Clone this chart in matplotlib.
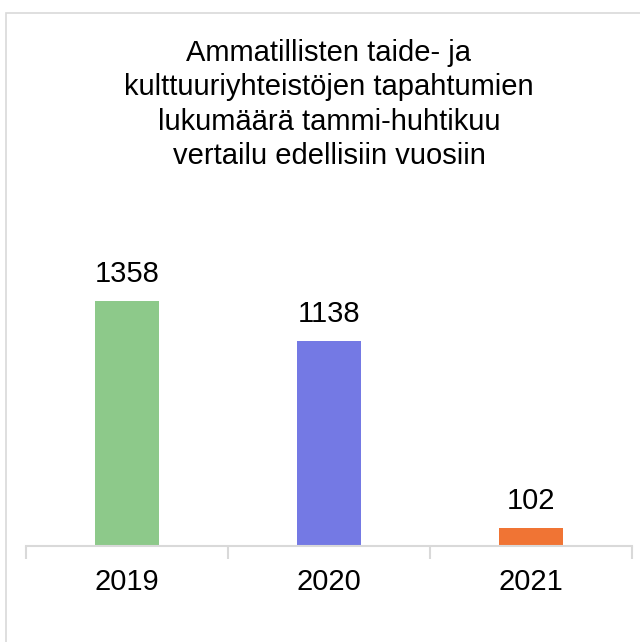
import matplotlib
matplotlib.use("Agg")
import matplotlib.pyplot as plt
from matplotlib.patches import Rectangle

plt.rcParams['font.family'] = ['Liberation Sans', 'DejaVu Sans']

categories = ["2019", "2020", "2021"]
values = [1358, 1138, 102]
colors = ["#8DC98A", "#7479E4", "#F07434"]
title = "Ammatillisten taide- ja\nkulttuuriyhteistöjen tapahtumien\nlukumäärä tammi-huhtikuu\nvertailu edellisiin vuosiin"

W, H = 640, 642
fig = plt.figure(figsize=(W / 100, H / 100), dpi=100)

# outer chart frame (only left and top edges visible)
fig.patches.append(Rectangle((6 / W, -0.5), 2.0, 1.5 - 13 / H, transform=fig.transFigure,
                             fill=False, edgecolor="#D9D9D9", linewidth=1.2))

ymax = 1600
ax_left, ax_right = 26 / W, 632 / W
ax_bottom = (H - 546) / H
ax_height = (245 * ymax / 1358) / H
ax = fig.add_axes([ax_left, ax_bottom, ax_right - ax_left, ax_height])

x = list(range(len(categories)))
bars = ax.bar(x, values, width=0.317, color=colors, zorder=2)
ax.set_xlim(-0.5, len(categories) - 0.5)
ax.set_ylim(0, ymax)

for xi, v in zip(x, values):
    ax.annotate(str(v), (xi, v), xytext=(0, 19), textcoords="offset pixels",
                ha="center", va="baseline", fontsize=21, color="#000000")

for s in ["top", "right", "left"]:
    ax.spines[s].set_visible(False)
ax.spines["bottom"].set_color("#D9D9D9")
ax.spines["bottom"].set_linewidth(1.5)
ax.set_yticks([])
ax.set_xticks([-0.5, 0.5, 1.5, 2.5], minor=False)
ax.set_xticklabels([])
ax.tick_params(axis="x", which="major", length=9, width=1.5, color="#D9D9D9")
ax.set_xticks(x, minor=True)
ax.set_xticklabels(categories, minor=True)
ax.tick_params(axis="x", which="minor", length=0, pad=16, labelsize=21, labelcolor="#000000")
ax.patch.set_visible(False)

fig.text(329 / W, 1 - 164 / H, title, ha="center", va="baseline", fontsize=21,
         linespacing=1.29, color="#000000")

fig.savefig("out.png", dpi=100, facecolor="white")
